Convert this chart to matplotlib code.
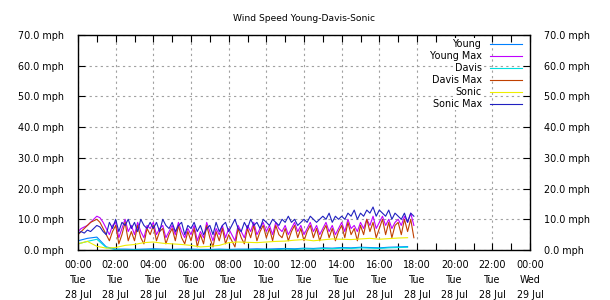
import numpy as np
import matplotlib
matplotlib.use("Agg")
import matplotlib.pyplot as plt
from matplotlib.lines import Line2D

# 10-minute values for the max series, 30-minute values for the averages
young_max = [6, 7, 7.5, 8, 9, 10,
             11, 10.5, 9, 7, 5, 8,
             9, 4, 7, 10, 6, 8,
             5, 9, 6, 4, 8, 7,
             9, 5, 7, 8, 4, 6,
             8, 5, 9, 6, 4, 7,
             5, 8, 3, 6, 4, 9,
             6, 3, 7, 5, 8, 4,
             7, 5, 3, 8, 6, 4,
             8, 6, 9, 5, 7, 9,
             6, 8, 5, 9, 7, 6,
             8, 5, 7, 9, 6, 8,
             5, 7, 9, 6, 8, 5,
             7, 9, 6, 8, 5, 7,
             9, 6, 10, 7, 8, 6,
             9, 7, 10, 8, 11, 7,
             9, 11, 8, 10, 7, 9,
             10, 8, 11, 9, 12, 8]
davis_max = [5, 6, 7, 8, 9, 9.5,
             10, 9, 7, 5, 3, 6,
             8, 2, 5, 9, 3, 6,
             3, 8, 4, 2, 7, 5,
             8, 3, 6, 7, 2, 5,
             7, 3, 8, 4, 2, 6,
             3, 7, 1, 5, 2, 8,
             4, 1, 6, 3, 7, 2,
             5, 3, 1, 7, 4, 2,
             7, 4, 8, 3, 6, 8,
             4, 7, 3, 8, 5, 4,
             7, 3, 6, 8, 4, 7,
             3, 6, 8, 4, 7, 3,
             6, 8, 4, 7, 3, 6,
             8, 4, 9, 5, 7, 3,
             8, 5, 10, 6, 9, 4,
             7, 10, 5, 9, 4, 8,
             9, 5, 10, 6, 10, 4]
sonic_max = [5.5, 6, 5.5, 6.5, 6, 7,
             8, 7.5, 6, 5, 9, 7,
             10, 6, 9, 8, 10, 7,
             9, 6, 10, 8, 7, 9,
             7, 9, 6, 10, 8, 7,
             9, 6, 8, 9, 5, 8,
             7, 9, 6, 8, 5, 7,
             8, 5, 9, 6, 8, 9,
             6, 8, 10, 7, 6, 9,
             7, 10, 8, 9, 7, 10,
             9, 8, 10, 9, 8, 10,
             9, 11, 9, 10, 8, 9,
             10, 9, 11, 10, 9, 10,
             11, 10, 12, 9, 11, 10,
             11, 10, 12, 11, 13, 10,
             12, 11, 13, 12, 14, 11,
             13, 12, 11, 13, 10, 12,
             11, 10, 12, 9, 12, 11]
young = [3.0, 3.8, 4.2, 1.0, 0.3, 0.3, 0.2, 0.3, 0.4, 0.3, 0.2, 0.3,
         0.3, 0.2, 0.2, 0.3, 0.2, 0.3, 0.3, 0.4, 0.3, 0.4, 0.5, 0.4,
         0.6, 0.5, 0.7, 0.6, 0.8, 0.7, 0.9, 0.8, 0.7, 0.9, 1.0, 1.1]
davis = [2.0, 2.8, 3.5, 0.8, 0.1, 0.0, 0.1, 0.0, 0.1, 0.0, 0.0, 0.1,
         0.0, 0.0, 0.0, 0.1, 0.0, 0.0, 0.1, 0.1, 0.2, 0.1, 0.3, 0.2,
         0.4, 0.3, 0.5, 0.4, 0.6, 0.5, 0.7, 0.6, 0.5, 0.7, 0.8, 0.9]
sonic = [2.0, 2.8, 1.2, 0.6, 0.8, 1.5, 1.8, 2.4, 2.6, 2.2, 2.0, 1.8,
         1.5, 1.0, 1.2, 1.5, 2.4, 2.6, 2.5, 2.4, 2.6, 2.8, 2.9, 3.2,
         3.4, 3.0, 3.3, 3.6, 3.5, 3.4, 3.6, 3.8, 3.5, 3.7, 3.9, 4.0]

t10 = np.arange(len(young_max)) / 6.0
t30 = np.arange(len(young)) / 2.0

series = [("Young", t30, young, "#0080ff"),
          ("Young Max", t10, young_max, "#c000ff"),
          ("Davis", t30, davis, "#00e0e0"),
          ("Davis Max", t10, davis_max, "#c04000"),
          ("Sonic", t30, sonic, "#eeee00"),
          ("Sonic Max", t10, sonic_max, "#2020c0")]

x_hours = list(range(0, 25, 2))
x_labels = ["00:00\nTue\n28 Jul", "02:00\nTue\n28 Jul", "04:00\nTue\n28 Jul",
            "06:00\nTue\n28 Jul", "08:00\nTue\n28 Jul", "10:00\nTue\n28 Jul",
            "12:00\nTue\n28 Jul", "14:00\nTue\n28 Jul", "16:00\nTue\n28 Jul",
            "18:00\nTue\n28 Jul", "20:00\nTue\n28 Jul", "22:00\nTue\n28 Jul",
            "00:00\nWed\n29 Jul"]
y_vals = list(range(0, 71, 10))
y_labels = ["%.1f mph" % v for v in y_vals]

plt.rcParams['font.family'] = 'DejaVu Sans'
plt.rcParams['font.size'] = 6.9

fig = plt.figure(figsize=(6.1, 3.0), dpi=100)
ax = fig.add_axes([78 / 610, 50 / 300, 452 / 610, 215 / 300])

for name, t, v, c in series:
    ax.plot(t, v, color=c, lw=0.8)

ax.set_xlim(0, 24)
ax.set_ylim(0, 70)
ax.set_xticks(x_hours)
ax.set_xticklabels(x_labels, linespacing=1.65)
ax.set_xticks(range(0, 25), minor=True)
ax.set_yticks(y_vals)
ax.set_yticklabels(y_labels)
ax.tick_params(which='both', direction='in', length=5, width=0.8,
               top=True, right=True, labelright=True)
ax.tick_params(axis='x', which='major', pad=7)
ax.tick_params(axis='y', pad=10)
ax.grid(True, which='major', color='#a0a0a0', lw=0.8, ls=(0, (2, 3)))
for s in ax.spines.values():
    s.set_linewidth(1.0)

ax.set_title("Wind Speed Young-Davis-Sonic", fontsize=6.6, pad=10)

# legend drawn by hand: right-aligned text, line to the right
for i, (name, t, v, c) in enumerate(series):
    yy = (250 - (44 + 12 * i)) / 215
    ax.add_line(Line2D([(490 - 78) / 452, (522 - 78) / 452], [yy, yy],
                       color=c, lw=0.8, transform=ax.transAxes))
    ax.text((482 - 78) / 452, yy, name, transform=ax.transAxes,
            ha='right', va='center', fontsize=6.9,
            bbox=dict(facecolor='white', edgecolor='none', pad=0.5))

fig.savefig("out.png", dpi=100, facecolor='white')
